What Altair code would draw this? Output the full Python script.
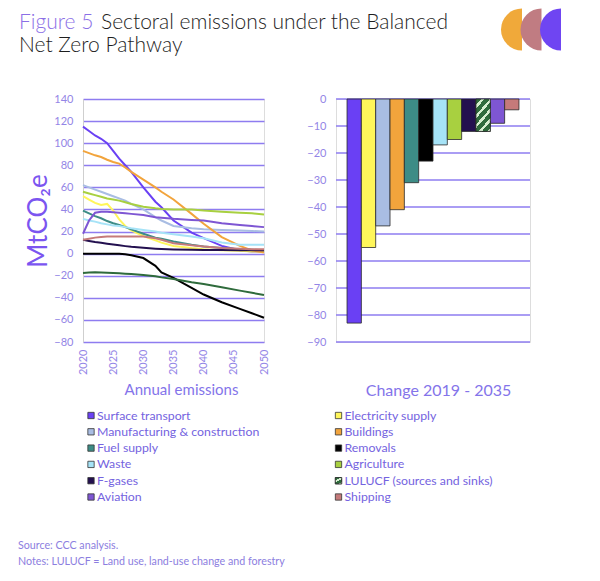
import altair as alt
import pandas as pd

FONT = "Lato"

SECTORS = [
    "Surface transport", "Electricity supply", "Manufacturing & construction",
    "Buildings", "Fuel supply", "Removals", "Waste", "Agriculture", "F-gases",
    "LULUCF (sources and sinks)", "Aviation", "Shipping",
]
COLORS = [
    "#6A40F4", "#FFF65A", "#A9BDE3", "#F2A43C", "#3D8C86", "#000000",
    "#A6E3F7", "#A8D040", "#23104F", "#2F6B3C", "#7E56D3", "#C57A7A",
]

YEARS = [2020, 2021, 2022, 2023, 2024, 2025, 2026, 2027, 2028, 2030,
         2032, 2033, 2035, 2038, 2040, 2043, 2046, 2048, 2050]
SURFACE = [115, 111, 107, 104, 100, 93, 86, 80, 74, 60, 47, 42, 30, 19, 14, 7, 3, 2, 2]
ELECTRICITY = [52, 49, 46, 44, 45, 39, 31, 25, 21, 16, 12, 10, 7, 5, 4, 3, 2.5, 2, 2]
MANUFACTURING = [62, 60, 58, 56, 54, 52, 50, 48, 45, 40, 33, 30, 25, 23, 22, 21.5, 21, 20.5, 20]
BUILDINGS = [93, 91, 89, 87.5, 85, 83, 81.5, 78, 74, 67, 60, 56, 49, 36, 27, 15, 7, 3, 1]
FUEL_SUPPLY = [39, 36.5, 34, 32, 29.5, 27.5, 26, 24, 22, 18, 14.5, 13.5, 11, 8, 6.5, 5, 4, 3.5, 3]
REMOVALS = [0, 0, 0, 0, 0, 0, 0, -0.5, -1.5, -4, -11, -17, -22, -31, -37, -44, -50, -54, -58]
WASTE = [31.5, 30, 29, 27.5, 26.5, 25.5, 25, 24, 23, 21.5, 20, 19, 17.5, 15.5, 14, 10, 8, 8, 8]
AGRICULTURE = [56, 54.5, 53, 51.5, 50, 49, 48, 46.5, 45, 42.5, 41, 40.5, 40, 40, 39, 38, 37, 36.5, 35.5]
F_GASES = [12.5, 11.5, 10.5, 9.8, 9, 8.3, 7.5, 6.8, 6.2, 5.3, 4.5, 4.2, 3.8, 3.5, 3.3, 3.2, 3.1, 3, 3]
LULUCF = [-17.5, -17, -16.8, -17, -17.2, -17.5, -17.8, -18.2, -18.5, -19.3, -20.5, -21.5, -23, -26, -27.5, -30.5, -33.5, -35.5, -37.5]
AVIATION = [18, 30, 37, 38, 38, 37.5, 37, 36.5, 36, 35, 33, 32.5, 31.5, 30.5, 30, 27.5, 26, 25, 24]
SHIPPING = [12.5, 13.5, 14.5, 15, 15.5, 15.5, 15.5, 15.5, 15.5, 15.5, 14, 12.5, 9.5, 7.5, 6.5, 5, 4.5, 4, 4]

SERIES = [SURFACE, ELECTRICITY, MANUFACTURING, BUILDINGS, FUEL_SUPPLY, REMOVALS,
          WASTE, AGRICULTURE, F_GASES, LULUCF, AVIATION, SHIPPING]

CHANGE_2019_2035 = [-83, -55, -47, -41, -31, -23, -17, -15, -12, -12, -9, -4]

X_TICKS = [2020, 2025, 2030, 2035, 2040, 2045, 2050]
Y_TICKS_LEFT = [-80, -60, -40, -20, 0, 20, 40, 60, 80, 100, 120, 140]
Y_TICKS_RIGHT = [-90, -80, -70, -60, -50, -40, -30, -20, -10, 0]

LOGO_COLORS = ["#F0A93A", "#C07C82", "#6F45F2"]

TITLE_LEAD = "Figure 5"
TITLE_LINE1 = "Sectoral emissions under the Balanced"
TITLE_LINE2 = "Net Zero Pathway"
SOURCE = "Source: CCC analysis."
NOTES = "Notes: LULUCF = Land use, land-use change and forestry"

# ---------------------------------------------------------------- styling
GRID = "#8E7CF0"
LABEL = "#9385E6"
LEG_TEXT = "#7463E0"
PURPLE_TITLE = "#8B6FE6"

W_L, W_R, H = 181, 194, 243
OX, OY = 82, 98.5  # page position of the left plot origin


def px(v):
    return v - OX


def py(v):
    return v - OY


rows = []
for name, vals in zip(SECTORS, SERIES):
    for yr, v in zip(YEARS, vals):
        rows.append({"sector": name, "year": yr, "value": v})
lines_df = pd.DataFrame(rows)

bars_df = pd.DataFrame({"sector": SECTORS, "change": CHANGE_2019_2035})
legend_df = pd.DataFrame({
    "sector": SECTORS,
    "col": [i % 2 for i in range(len(SECTORS))],
    "row": [i // 2 for i in range(len(SECTORS))],
})
grid_r_df = pd.DataFrame({"change": Y_TICKS_RIGHT})

color_scale = alt.Scale(domain=SECTORS, range=COLORS)


def hatch(periods, green="#2F6B3C", white="#D6EED0"):
    stops = []
    for k in range(periods):
        a = k / periods
        b = (k + 0.62) / periods
        c = (k + 1) / periods
        stops += [
            {"offset": a, "color": green},
            {"offset": b, "color": green},
            {"offset": b, "color": white},
            {"offset": c, "color": white},
        ]
    return {"gradient": "linear", "x1": 0, "y1": 0, "x2": 0.6, "y2": 1.2, "stops": stops}


# ---------------------------------------------------------------- left panel
lines = alt.Chart(lines_df).mark_line(strokeWidth=2).encode(
    x=alt.X("year:Q",
            scale=alt.Scale(domain=[2020, 2050], nice=False, zero=False),
            axis=alt.Axis(values=X_TICKS, format="d", labelAngle=270, labelFontSize=11,
                          labelColor=LABEL, labelFont=FONT, labelPadding=7,
                          ticks=False, domain=False, grid=False,
                          title="Annual emissions", titleFont=FONT, titleFontSize=15,
                          titleFontWeight="normal", titleColor="#8474EA", titlePadding=8,
                          titleX=98)),
    y=alt.Y("value:Q",
            scale=alt.Scale(domain=[-80, 140], nice=False),
            axis=alt.Axis(values=Y_TICKS_LEFT, labelFontSize=11, labelColor=LABEL,
                          labelFont=FONT, labelPadding=10, labelOverlap=False, ticks=False,
                          domain=True, domainColor="#CFCFCF", domainWidth=1,
                          grid=True, gridColor=GRID, gridWidth=1.5,
                          title="MtCO\u2082e", titleFont=FONT, titleFontSize=26,
                          titleFontWeight="normal", titleColor="#7B55F0", titlePadding=2)),
    color=alt.Color("sector:N", scale=color_scale, legend=None),
)


def text_layer(txt, x, y, size, color, align="left", weight="normal"):
    return alt.Chart(pd.DataFrame({"t": [txt]})).mark_text(
        align=align, baseline="alphabetic", font=FONT, fontSize=size, color=color,
        fontWeight=weight
    ).encode(x=alt.value(px(x)), y=alt.value(py(y)), text="t:N")


anchor = alt.Chart(pd.DataFrame({"a": [0]})).mark_point(size=1, opacity=0).encode(
    x=alt.value(px(8.5)), y=alt.value(py(8.5))
)

header = [
    text_layer(TITLE_LEAD, 18, 28.5, 21, PURPLE_TITLE, weight=300),
    text_layer(TITLE_LINE1, 100, 28.5, 21, "#1E1E1E", weight=300),
    text_layer(TITLE_LINE2, 18, 51, 21, "#1E1E1E", weight=300),
]

logo = []
for k, col in enumerate(LOGO_COLORS):
    logo.append(
        alt.Chart(pd.DataFrame({"a": [k]})).mark_arc(
            radius=21, theta=3.14159, theta2=6.28318, color=col
        ).encode(x=alt.value(px(521 + 19.5 * k)), y=alt.value(py(29)))
    )

footer = [
    text_layer(SOURCE, 17, 548, 10.7, "#8C7EE0"),
    text_layer(NOTES, 17, 564, 10.7, "#8C7EE0"),
]

leg_base = alt.Chart(legend_df).transform_calculate(
    lx=f"datum.col * 247.5 + {px(90)}",
    ly=f"datum.row * 16.3 + {py(415)}",
    tx=f"datum.col * 247.5 + {px(96)}",
)
leg_squares = leg_base.mark_square(size=40, stroke="#333333", strokeWidth=0.8, opacity=1).encode(
    x=alt.X("lx:Q", scale=None),
    y=alt.Y("ly:Q", scale=None),
    fill=alt.Fill("sector:N", scale=color_scale, legend=None),
)
leg_hatch = leg_base.transform_filter(
    alt.datum.sector == SECTORS[9]
).mark_square(size=40, stroke="#333333", strokeWidth=0.8, fill=hatch(2), opacity=1).encode(
    x=alt.X("lx:Q", scale=None),
    y=alt.Y("ly:Q", scale=None),
)
leg_text = leg_base.mark_text(align="left", baseline="middle", font=FONT, fontSize=12.3,
                              color=LEG_TEXT).encode(
    x=alt.X("tx:Q", scale=None),
    y=alt.Y("ly:Q", scale=None),
    text="sector:N",
)

left = alt.layer(lines, anchor, *header, *logo, *footer, leg_squares, leg_hatch, leg_text).properties(
    width=W_L, height=H
)

# ---------------------------------------------------------------- right panel
y_right_scale = alt.Scale(domain=[-90, 0], nice=False, zero=False)
y_right_axis = alt.Axis(values=Y_TICKS_RIGHT, labelFontSize=11, labelColor=LABEL,
                        labelFont=FONT, labelPadding=10, labelOverlap=False,
                        ticks=False, domain=False, grid=False, title=None)
x_right_axis = alt.Axis(labels=False, ticks=False, domain=False,
                        title="Change 2019 - 2035", titleFont=FONT, titleFontSize=16,
                        titleFontWeight="normal", titleColor="#8474EA",
                        titlePadding=40, titleX=102)

grid_r = alt.Chart(grid_r_df).mark_rule(color=GRID, strokeWidth=1.5).encode(
    y=alt.Y("change:Q", scale=y_right_scale, axis=y_right_axis),
)

bars = alt.Chart(bars_df).mark_bar(stroke="#2A2A2A", strokeWidth=0.8).encode(
    x=alt.X("sector:N", sort=SECTORS,
            scale=alt.Scale(paddingInner=0, paddingOuter=0.77), axis=x_right_axis),
    y=alt.Y("change:Q", scale=y_right_scale, axis=y_right_axis),
    fill=alt.Fill("sector:N", scale=color_scale, legend=None),
)
bar_hatch = alt.Chart(bars_df).transform_filter(
    alt.datum.sector == SECTORS[9]
).mark_bar(stroke="#2A2A2A", strokeWidth=0.8, fill=hatch(5)).encode(
    x=alt.X("sector:N", sort=SECTORS,
            scale=alt.Scale(paddingInner=0, paddingOuter=0.77), axis=x_right_axis),
    y=alt.Y("change:Q", scale=y_right_scale, axis=y_right_axis),
)

right = alt.layer(grid_r, bars, bar_hatch).properties(width=W_R, height=H)

chart = alt.hconcat(left, right, spacing=72, bounds="flush").properties(
    padding={"left": 0, "top": 0, "right": 0, "bottom": 0}
).configure_view(stroke=None).configure(background="white")

chart.save("out.html", embed_options={"renderer": "svg", "actions": False})
